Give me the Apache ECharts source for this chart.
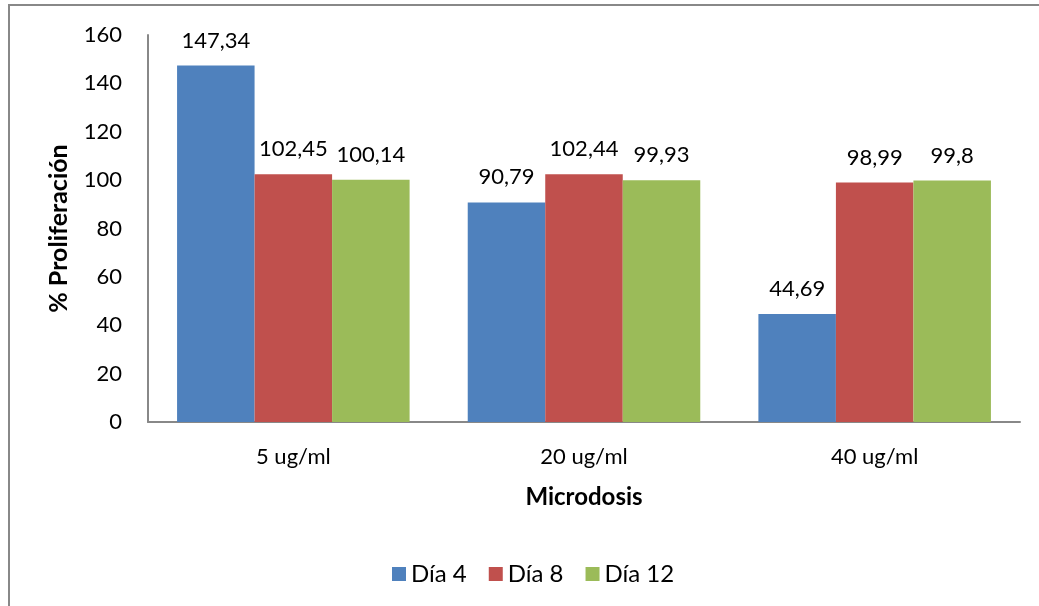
<!DOCTYPE html>
<html>
<head>
<meta charset="utf-8">
<script src="https://cdn.jsdelivr.net/npm/echarts@6/dist/echarts.min.js"></script>
<style>
  html, body { margin: 0; padding: 0; background: #fff; }
  #chart { width: 1039px; height: 606px; }
</style>
</head>
<body>
<div id="chart"></div>
<script>
// Proliferation (%) by microdose and day
const categories = ['5 ug/ml', '20 ug/ml', '40 ug/ml'];
const seriesNames = ['Día 4', 'Día 8', 'Día 12'];
const dia4 = [147.34, 90.79, 44.69];
const dia8 = [102.45, 102.44, 98.99];
const dia12 = [100.14, 99.93, 99.8];
const yTicks = [0, 20, 40, 60, 80, 100, 120, 140, 160];

const colors = ['#4F81BD', '#C0504D', '#9BBB59'];
const FONT = 'Lato, "Open Sans", sans-serif';
const FS = 22;
const FS_TITLE = 24;

const chart = echarts.init(document.getElementById('chart'), null, { renderer: 'canvas' });

function barSeries(name, data, color) {
  return {
    name: name,
    type: 'bar',
    data: data,
    barGap: '0%',
    barCategoryGap: '20%',
    itemStyle: { color: color },
    label: {
      show: true,
      position: 'top',
      distance: 14,
      color: '#000',
      fontFamily: FONT,
      fontSize: FS,
      formatter: p => String(p.value).replace('.', ',')
    }
  };
}

chart.setOption({
  animation: false,
  textStyle: { fontFamily: FONT },
  graphic: [{
    type: 'rect',
    shape: { x: 9, y: 5, width: 1100, height: 700 },
    style: { fill: 'none', stroke: '#888', lineWidth: 2 },
    silent: true
  }],
  grid: { left: 148, right: 19, top: 35, bottom: 184 },
  legend: {
    data: seriesNames,
    left: 387,
    top: 557,
    icon: 'rect',
    itemWidth: 14,
    itemHeight: 14,
    itemGap: 22,
    textStyle: { fontFamily: FONT, fontSize: 24, color: '#000' }
  },
  xAxis: {
    type: 'category',
    data: categories,
    name: 'Microdosis',
    nameLocation: 'middle',
    nameGap: 63,
    nameTextStyle: { fontFamily: FONT, fontSize: FS_TITLE, fontWeight: 'bold', color: '#000' },
    axisLine: { lineStyle: { color: '#888', width: 2 } },
    axisTick: { show: false },
    axisLabel: { fontFamily: FONT, fontSize: FS, color: '#000', margin: 24 }
  },
  yAxis: {
    type: 'value',
    min: yTicks[0],
    max: yTicks[yTicks.length - 1],
    interval: yTicks[1] - yTicks[0],
    name: '% Proliferación',
    nameLocation: 'middle',
    nameRotate: 90,
    nameGap: 77,
    nameTextStyle: { fontFamily: FONT, fontSize: 25, fontWeight: 'bold', color: '#000' },
    axisLine: { show: true, lineStyle: { color: '#888', width: 2 } },
    axisTick: { show: false },
    splitLine: { show: false },
    axisLabel: { fontFamily: FONT, fontSize: FS, color: '#000', margin: 26 }
  },
  series: [
    barSeries(seriesNames[0], dia4, colors[0]),
    barSeries(seriesNames[1], dia8, colors[1]),
    barSeries(seriesNames[2], dia12, colors[2])
  ]
});
</script>
</body>
</html>
